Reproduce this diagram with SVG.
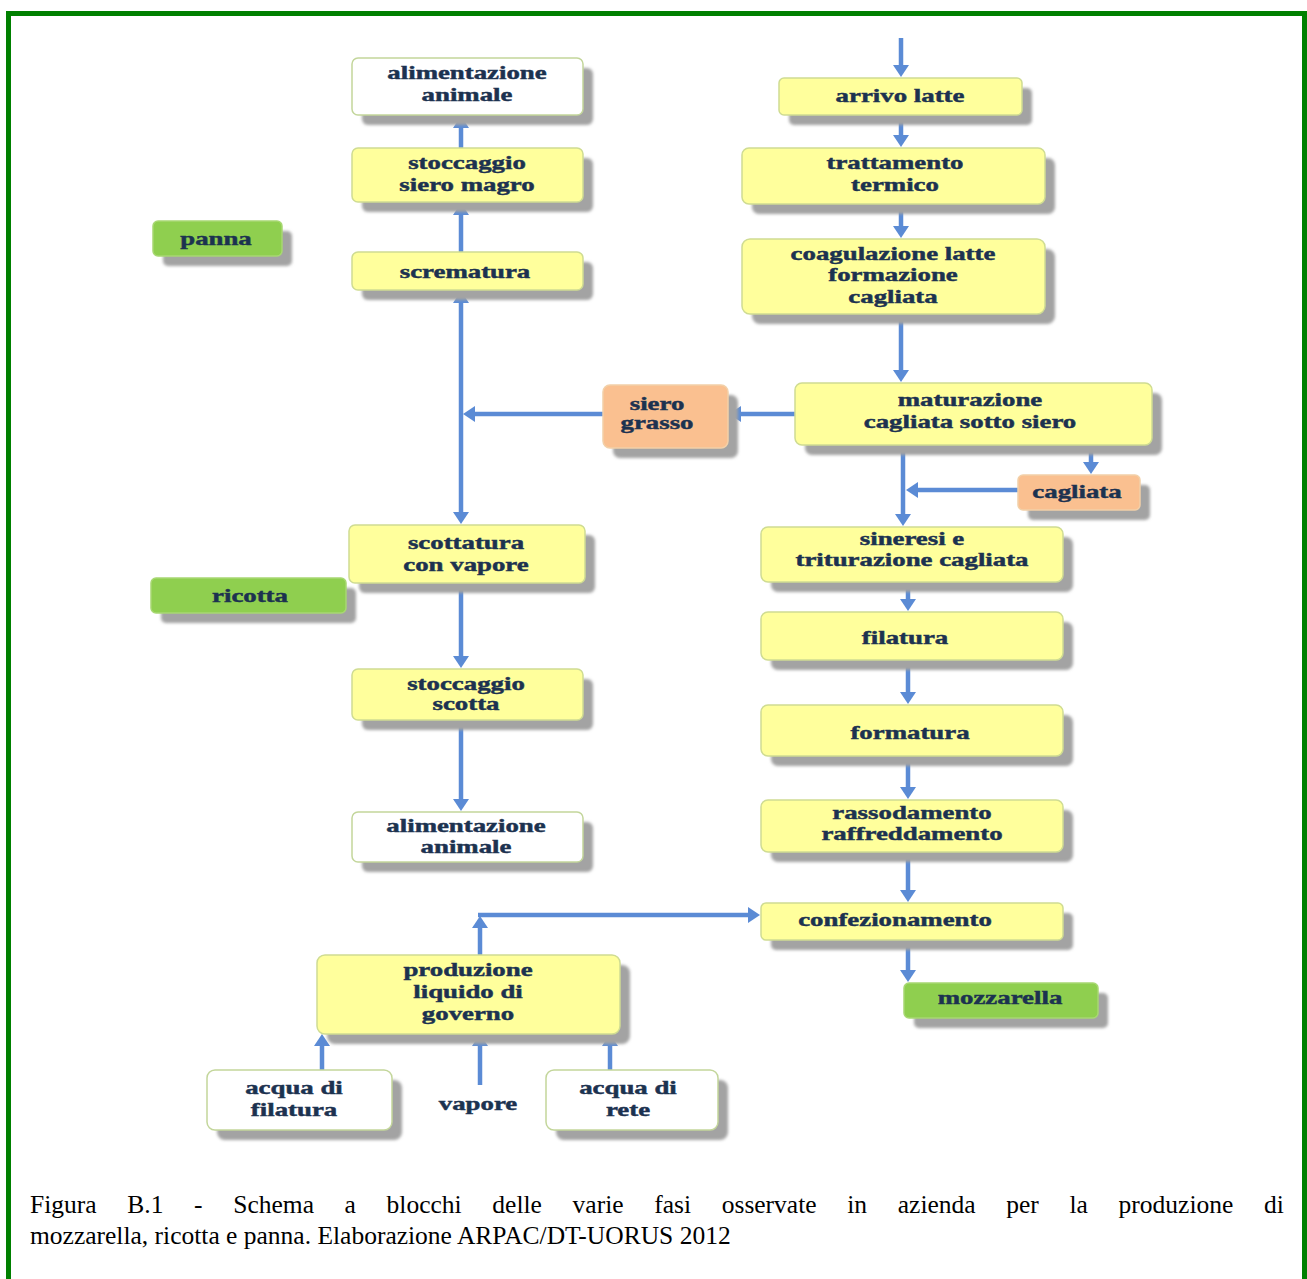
<svg xmlns="http://www.w3.org/2000/svg" width="1307" height="1279" viewBox="0 0 1307 1279">
<style>
.sh{fill:#a3a3a3;filter:url(#blur)}
.y{fill:#ffff9c;stroke:#cfdc92;stroke-width:1.5}
.w{fill:#ffffff;stroke:#c3d69b;stroke-width:1.5}
.g{fill:#8fcf4f;stroke:#a8d873;stroke-width:1.5}
.o{fill:#fac090;stroke:#f2d0a8;stroke-width:1.5}
.t{font-family:"Liberation Serif","Times New Roman",serif;font-weight:bold;font-size:18.5px;fill:#1c3250;stroke:#1c3250;stroke-width:0.45;text-anchor:middle}
.c{fill:none;stroke:#5b8bd5;stroke-width:4.5}
.cap{font-family:"Liberation Serif","Times New Roman",serif;font-size:25.5px;fill:#000}
</style>
<defs>
<filter id="blur" x="-10%" y="-20%" width="120%" height="140%"><feGaussianBlur stdDeviation="1.8"/></filter>
<marker id="ah" markerUnits="userSpaceOnUse" markerWidth="13" markerHeight="16" refX="3" refY="8" orient="auto"><path d="M0,0 L12,8 L0,16 z" fill="#5b8bd5"/></marker>
</defs>
<rect width="1307" height="1279" fill="#ffffff"/>
<rect x="8.5" y="13.5" width="1296" height="1300" fill="none" stroke="#008000" stroke-width="5"/>

<g id="connectors">
<path class="c" d="M901,38 V68" marker-end="url(#ah)"/>
<path class="c" d="M901,115 V138" marker-end="url(#ah)"/>
<path class="c" d="M901,204 V229" marker-end="url(#ah)"/>
<path class="c" d="M901,314 V373" marker-end="url(#ah)"/>
<path class="c" d="M903,445 V517" marker-end="url(#ah)"/>
<path class="c" d="M1091,445 V465" marker-end="url(#ah)"/>
<path class="c" d="M1018,490 H915" marker-end="url(#ah)"/>
<path class="c" d="M908,582 V602" marker-end="url(#ah)"/>
<path class="c" d="M908,660 V695" marker-end="url(#ah)"/>
<path class="c" d="M908,756 V790" marker-end="url(#ah)"/>
<path class="c" d="M908,852 V893" marker-end="url(#ah)"/>
<path class="c" d="M908,940 V973" marker-end="url(#ah)"/>
<path class="c" d="M795,414 H738" marker-end="url(#ah)"/>
<path class="c" d="M603,414 H472" marker-end="url(#ah)"/>
<path class="c" d="M461,414 V300" marker-end="url(#ah)"/>
<path class="c" d="M461,414 V515" marker-end="url(#ah)"/>
<path class="c" d="M461,252 V212" marker-end="url(#ah)"/>
<path class="c" d="M461,148 V125" marker-end="url(#ah)"/>
<path class="c" d="M461,583 V659" marker-end="url(#ah)"/>
<path class="c" d="M461,720 V802" marker-end="url(#ah)"/>
<path class="c" d="M480,955 V925" marker-end="url(#ah)"/>
<path class="c" d="M478,915 H751" marker-end="url(#ah)"/>
<path class="c" d="M322,1070 V1043" marker-end="url(#ah)"/>
<path class="c" d="M480,1085 V1043" marker-end="url(#ah)"/>
<path class="c" d="M610,1070 V1043" marker-end="url(#ah)"/>
</g>

<g id="alimentazione-animale-1"><rect class="sh" x="362" y="68" width="231" height="57" rx="6"/><rect class="w" x="352" y="58" width="231" height="57" rx="6"/>
<text class="t" transform="translate(467 0) scale(1.45 1)"><tspan x="0" y="79">alimentazione</tspan><tspan x="0" y="101">animale</tspan></text></g>

<g id="stoccaggio-siero-magro"><rect class="sh" x="362" y="158" width="231" height="54" rx="6"/><rect class="y" x="352" y="148" width="231" height="54" rx="6"/>
<text class="t" transform="translate(467 0) scale(1.45 1)"><tspan x="0" y="169">stoccaggio</tspan><tspan x="0" y="191">siero magro</tspan></text></g>

<g id="panna"><rect class="sh" x="163" y="231" width="129" height="35" rx="5"/><rect class="g" x="153" y="221" width="129" height="35" rx="5"/>
<text class="t" transform="translate(216 0) scale(1.45 1)"><tspan x="0" y="245">panna</tspan></text></g>

<g id="scrematura"><rect class="sh" x="362" y="262" width="231" height="38" rx="6"/><rect class="y" x="352" y="252" width="231" height="38" rx="6"/>
<text class="t" transform="translate(465 0) scale(1.45 1)"><tspan x="0" y="278">scrematura</tspan></text></g>

<g id="siero-grasso"><rect class="sh" x="613" y="395" width="125" height="63" rx="7"/><rect class="o" x="603" y="385" width="125" height="63" rx="7"/>
<text class="t" transform="translate(657 0) scale(1.45 1)"><tspan x="0" y="410">siero</tspan><tspan x="0" y="429">grasso</tspan></text></g>

<g id="scottatura-con-vapore"><rect class="sh" x="359" y="535" width="236" height="58" rx="6"/><rect class="y" x="349" y="525" width="236" height="58" rx="6"/>
<text class="t" transform="translate(466 0) scale(1.45 1)"><tspan x="0" y="549">scottatura</tspan><tspan x="0" y="571">con vapore</tspan></text></g>

<g id="ricotta"><rect class="sh" x="161" y="588" width="195" height="35" rx="5"/><rect class="g" x="151" y="578" width="195" height="35" rx="5"/>
<text class="t" transform="translate(250 0) scale(1.45 1)"><tspan x="0" y="602">ricotta</tspan></text></g>

<g id="stoccaggio-scotta"><rect class="sh" x="362" y="679" width="231" height="51" rx="6"/><rect class="y" x="352" y="669" width="231" height="51" rx="6"/>
<text class="t" transform="translate(466 0) scale(1.45 1)"><tspan x="0" y="690">stoccaggio</tspan><tspan x="0" y="710">scotta</tspan></text></g>

<g id="alimentazione-animale-2"><rect class="sh" x="362" y="822" width="231" height="50" rx="6"/><rect class="w" x="352" y="812" width="231" height="50" rx="6"/>
<text class="t" transform="translate(466 0) scale(1.45 1)"><tspan x="0" y="832">alimentazione</tspan><tspan x="0" y="853">animale</tspan></text></g>

<g id="produzione-liquido"><rect class="sh" x="327" y="965" width="303" height="79" rx="8"/><rect class="y" x="317" y="955" width="303" height="79" rx="8"/>
<text class="t" transform="translate(468 0) scale(1.45 1)"><tspan x="0" y="976">produzione</tspan><tspan x="0" y="998">liquido di</tspan><tspan x="0" y="1020">governo</tspan></text></g>

<g id="acqua-di-filatura"><rect class="sh" x="217" y="1080" width="185" height="60" rx="8"/><rect class="w" x="207" y="1070" width="185" height="60" rx="8"/>
<text class="t" transform="translate(294 0) scale(1.45 1)"><tspan x="0" y="1094">acqua di</tspan><tspan x="0" y="1116">filatura</tspan></text></g>

<g id="vapore"><text class="t" transform="translate(478 0) scale(1.45 1)"><tspan x="0" y="1110">vapore</tspan></text></g>

<g id="acqua-di-rete"><rect class="sh" x="556" y="1080" width="172" height="60" rx="8"/><rect class="w" x="546" y="1070" width="172" height="60" rx="8"/>
<text class="t" transform="translate(628 0) scale(1.45 1)"><tspan x="0" y="1094">acqua di</tspan><tspan x="0" y="1116">rete</tspan></text></g>

<g id="arrivo-latte"><rect class="sh" x="789" y="88" width="243" height="37" rx="5"/><rect class="y" x="779" y="78" width="243" height="37" rx="5"/>
<text class="t" transform="translate(900 0) scale(1.45 1)"><tspan x="0" y="102">arrivo latte</tspan></text></g>

<g id="trattamento-termico"><rect class="sh" x="752" y="158" width="303" height="56" rx="7"/><rect class="y" x="742" y="148" width="303" height="56" rx="7"/>
<text class="t" transform="translate(895 0) scale(1.45 1)"><tspan x="0" y="169">trattamento</tspan><tspan x="0" y="191">termico</tspan></text></g>

<g id="coagulazione"><rect class="sh" x="752" y="249" width="303" height="75" rx="8"/><rect class="y" x="742" y="239" width="303" height="75" rx="8"/>
<text class="t" transform="translate(893 0) scale(1.45 1)"><tspan x="0" y="260">coagulazione latte</tspan><tspan x="0" y="281">formazione</tspan><tspan x="0" y="303">cagliata</tspan></text></g>

<g id="maturazione"><rect class="sh" x="805" y="393" width="357" height="62" rx="7"/><rect class="y" x="795" y="383" width="357" height="62" rx="7"/>
<text class="t" transform="translate(970 0) scale(1.45 1)"><tspan x="0" y="406">maturazione</tspan><tspan x="0" y="428">cagliata sotto siero</tspan></text></g>

<g id="cagliata"><rect class="sh" x="1028" y="485" width="122" height="35" rx="5"/><rect class="o" x="1018" y="475" width="122" height="35" rx="5"/>
<text class="t" transform="translate(1077 0) scale(1.45 1)"><tspan x="0" y="498">cagliata</tspan></text></g>

<g id="sineresi"><rect class="sh" x="771" y="537" width="302" height="55" rx="7"/><rect class="y" x="761" y="527" width="302" height="55" rx="7"/>
<text class="t" transform="translate(912 0) scale(1.45 1)"><tspan x="0" y="545">sineresi e</tspan><tspan x="0" y="566">triturazione cagliata</tspan></text></g>

<g id="filatura"><rect class="sh" x="771" y="622" width="302" height="48" rx="7"/><rect class="y" x="761" y="612" width="302" height="48" rx="7"/>
<text class="t" transform="translate(905 0) scale(1.45 1)"><tspan x="0" y="644">filatura</tspan></text></g>

<g id="formatura"><rect class="sh" x="771" y="715" width="302" height="51" rx="7"/><rect class="y" x="761" y="705" width="302" height="51" rx="7"/>
<text class="t" transform="translate(910 0) scale(1.45 1)"><tspan x="0" y="739">formatura</tspan></text></g>

<g id="rassodamento"><rect class="sh" x="771" y="810" width="302" height="52" rx="7"/><rect class="y" x="761" y="800" width="302" height="52" rx="7"/>
<text class="t" transform="translate(912 0) scale(1.45 1)"><tspan x="0" y="819">rassodamento</tspan><tspan x="0" y="840">raffreddamento</tspan></text></g>

<g id="confezionamento"><rect class="sh" x="771" y="913" width="302" height="37" rx="5"/><rect class="y" x="761" y="903" width="302" height="37" rx="5"/>
<text class="t" transform="translate(895 0) scale(1.45 1)"><tspan x="0" y="926">confezionamento</tspan></text></g>

<g id="mozzarella"><rect class="sh" x="914" y="993" width="194" height="35" rx="5"/><rect class="g" x="904" y="983" width="194" height="35" rx="5"/>
<text class="t" transform="translate(1000 0) scale(1.45 1)"><tspan x="0" y="1004">mozzarella</tspan></text></g>

<g id="caption">
<text class="cap" x="30" y="1213" word-spacing="24.3">Figura B.1 - Schema a blocchi delle varie fasi osservate in azienda per la produzione di</text>
<text class="cap" x="30" y="1244">mozzarella, ricotta e panna. Elaborazione ARPAC/DT-UORUS 2012</text>
</g>
</svg>
